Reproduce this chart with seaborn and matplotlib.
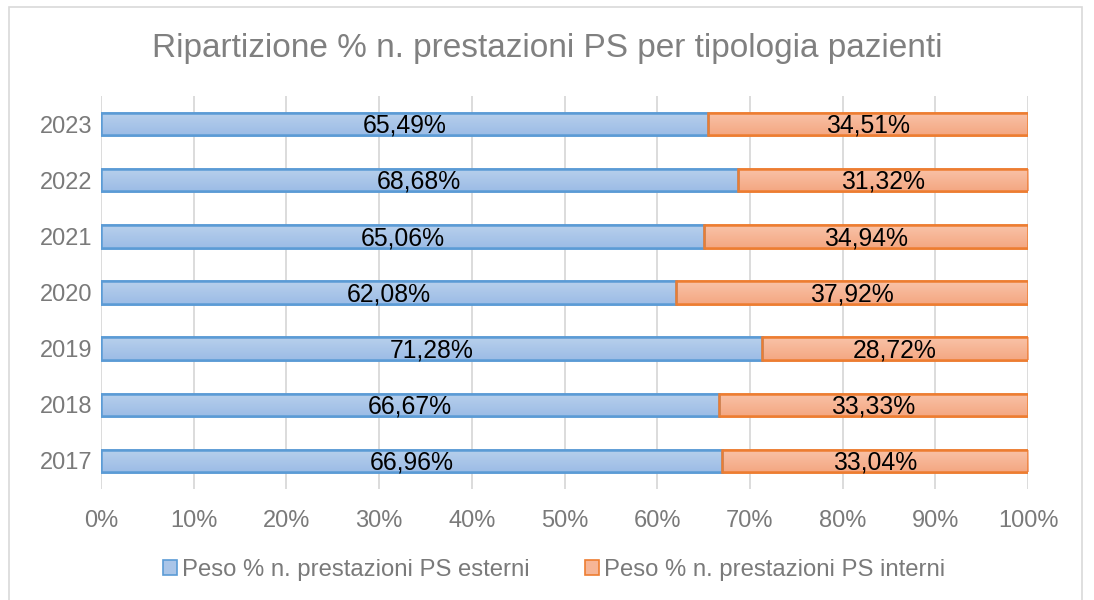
import matplotlib
matplotlib.use("Agg")
import matplotlib.pyplot as plt
import seaborn as sns
import pandas as pd
import numpy as np
from matplotlib.patches import Rectangle
from matplotlib.colors import LinearSegmentedColormap

years = ["2023", "2022", "2021", "2020", "2019", "2018", "2017"]
esterni = [65.49, 68.68, 65.06, 62.08, 71.28, 66.67, 66.96]
interni = [34.51, 31.32, 34.94, 37.92, 28.72, 33.33, 33.04]
series_names = ["Peso % n. prestazioni PS esterni", "Peso % n. prestazioni PS interni"]
xticks = [0, 10, 20, 30, 40, 50, 60, 70, 80, 90, 100]
title = "Ripartizione % n. prestazioni PS per tipologia pazienti"

sns.set_theme(style="white")
plt.rcParams["font.family"] = ["Liberation Sans", "DejaVu Sans"]

blue_face, blue_edge = "#aac5e8", "#5b9bd5"
orange_face, orange_edge = "#f6b596", "#ed7d31"
blue_grad = ("#b8d0ec", "#9cbce6")
orange_grad = ("#f9c3a8", "#f4a782")
grey_text = "#7a7a7a"

df = pd.DataFrame({"year": years, "esterni": esterni, "interni": interni})

fig = plt.figure(figsize=(10.94, 6.0), dpi=100)
ax = fig.add_axes([101/1094, 1-489/600, (1028-101)/1094, (489-96)/600])

sns.barplot(data=df, x="esterni", y="year", order=years, color=blue_face,
            edgecolor=blue_edge, linewidth=1.8, width=0.4, ax=ax, saturation=1,
            label=series_names[0], zorder=3)
n_blue = len(ax.patches)
sns.barplot(data=df, x="interni", y="year", order=years, color=orange_face,
            edgecolor=orange_edge, linewidth=1.8, width=0.4, ax=ax, saturation=1,
            label=series_names[1], zorder=3)
# stack orange bars after the blue ones
for p_b, p_o in zip(ax.patches[:n_blue], ax.patches[n_blue:]):
    p_o.set_x(p_b.get_x() + p_b.get_width())

ax.set_xlim(0, 100)
ax.set_ylim(len(years) - 0.5, -0.5)

# vertical gradient fill clipped to each bar
grad = np.linspace(0, 1, 64).reshape(-1, 1)
for patches, cols in ((ax.patches[:n_blue], blue_grad), (ax.patches[n_blue:2*n_blue], orange_grad)):
    cmap = LinearSegmentedColormap.from_list("g", list(cols))
    for p in patches:
        x0, y0, w, h = p.get_x(), p.get_y(), p.get_width(), p.get_height()
        im = ax.imshow(grad, cmap=cmap, aspect="auto",
                       extent=(x0, x0 + w, y0 + h, y0), origin="upper",
                       zorder=3.5, interpolation="bilinear")
        im.set_clip_path(p)
        edge = Rectangle((x0, y0), w, h, fill=False, edgecolor=p.get_edgecolor(),
                         linewidth=1.8, zorder=4)
        ax.add_patch(edge)
ax.set_xlim(0, 100)
ax.set_ylim(len(years) - 0.5, -0.5)
ax.set_aspect("auto")

# labels
for p, v in zip(ax.patches[:n_blue], esterni):
    ax.text(p.get_x() + p.get_width()/2, p.get_y() + p.get_height()/2 + 0.03,
            f"{v:.2f}%".replace(".", ","), ha="center", va="center",
            fontsize=17.8, color="black", zorder=5)
for p, v in zip(ax.patches[n_blue:2*n_blue], interni):
    ax.text(p.get_x() + p.get_width()/2, p.get_y() + p.get_height()/2 + 0.03,
            f"{v:.2f}%".replace(".", ","), ha="center", va="center",
            fontsize=17.8, color="black", zorder=5)

ax.set_xticks(xticks)
ax.set_xticklabels([f"{t}%" for t in xticks])
ax.xaxis.grid(True, color="#d9d9d9", linewidth=1.3, zorder=0)
ax.yaxis.grid(False)
ax.set_axisbelow(True)
for s in ax.spines.values():
    s.set_visible(False)
ax.tick_params(axis="both", length=0, labelsize=17, labelcolor=grey_text)
ax.tick_params(axis="x", pad=15)
ax.tick_params(axis="y", pad=6)
ax.set_xlabel("")
ax.set_ylabel("")

fig.text(0.5, 1-48/600, title, ha="center", va="center", fontsize=24, color="#808080")

handles, labels = ax.get_legend_handles_labels()
leg = ax.legend(handles[:2], labels[:2], loc="center", bbox_to_anchor=(554/1094, 1-570/600),
                bbox_transform=fig.transFigure, ncol=2, frameon=False,
                fontsize=17.2, handlelength=0.6, handleheight=0.6, handletextpad=0.2,
                columnspacing=2.3)
for t in leg.get_texts():
    t.set_color(grey_text)
for h in leg.legend_handles:
    h.set_linewidth(1.2)

fig.patches.append(Rectangle((9/1094, -0.01), (1082-9)/1094, 1.01-7/600,
                             transform=fig.transFigure, fill=False,
                             edgecolor="#d9d9d9", linewidth=1.2))

fig.savefig("out.png", dpi=100, facecolor="white")
